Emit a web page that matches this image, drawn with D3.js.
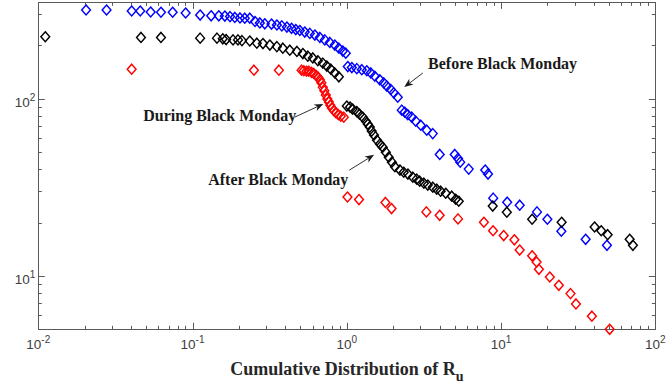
<!DOCTYPE html>
<html>
<head>
<meta charset="utf-8">
<script src="https://cdn.jsdelivr.net/npm/d3@7"></script>
<style>
  html, body { margin: 0; padding: 0; background: #fff; }
  svg { display: block; }
</style>
</head>
<body>
<svg id="chart" width="666" height="389"></svg>
<script>
// Cumulative distribution of R_u, three periods around Black Monday: [R_u, count]
const beforePts = [
  [0.0204,317],[0.0277,317],[0.0403,313],[0.0458,313],[0.0535,309],[0.0624,308],[0.0743,308],[0.0902,305],
  [0.112,297],[0.132,294],[0.148,294],[0.162,293],[0.175,291],[0.188,288],[0.203,286],[0.218,285],[0.235,285],
  [0.254,273],[0.273,268],[0.294,265],[0.325,264],[0.352,261],[0.379,258],[0.409,254],[0.438,250],[0.467,246],
  [0.496,243],[0.534,238],[0.576,234],[0.621,229],[0.669,222],[0.720,215],[0.776,208],[0.836,201],[0.888,193],
  [0.942,186],[0.985,181],
  [1.015,152],[1.078,150],[1.161,148],[1.251,146],[1.348,144],[1.431,140],[1.519,134],[1.636,128],[1.737,123],
  [1.816,118],[1.928,113],[2.016,108],[2.140,102],
  [2.272,86.3],[2.376,84.1],[2.485,81.4],[2.637,78.8],[2.799,74.8],[3.016,71.0],[3.299,66.5],[3.608,63.6],
  [4.004,48.5],[5.009,48.5],[5.262,46.1],[5.437,43.9],[6.172,40.1],[7.893,39.6],[8.233,37.6],
  [8.895,27.5],[10.96,26.1],[13.21,25.1],[17.10,23.0],[19.97,20.9],[24.60,17.9],[35.35,16.1],[48.58,14.9]
];

const duringPts = [
  [0.0403,147],[0.250,145],[0.363,145],[0.509,145],[0.526,144],[0.548,143],[0.567,143],[0.591,141],[0.611,139],
  [0.636,135],[0.653,132],[0.669,128],[0.684,123],[0.699,116],[0.715,111],[0.731,105],[0.748,99.6],[0.765,95.8],
  [0.782,92.1],[0.800,88.6],[0.824,85.8],[0.849,83.6],[0.881,81.4],[0.914,79.8],[0.956,78.8],
  [1.01,27.9],[1.20,27.0],[1.78,26.0],[1.95,24.0],[3.28,23.0],[4.00,22.0],[5.26,21.0],[7.74,20.1],[8.87,18.0],
  [10.4,16.9],[12.2,16.0],[13.2,14.0],[15.9,13.0],[17.0,12.0],[17.6,10.9],[20.7,9.87],[23.7,8.86],[28.2,7.95],
  [30.6,6.95],[38.8,5.93],[50.6,5.0]
];

const afterPts = [
  [0.0111,224],[0.0463,222],[0.0624,222],[0.112,220],[0.144,220],[0.157,218],[0.165,216],[0.183,215],[0.197,215],
  [0.209,213],[0.235,212],[0.261,206],[0.286,205],[0.317,201],[0.352,197],[0.385,193],[0.427,188],[0.475,185],
  [0.519,180],[0.559,174],[0.602,170],[0.649,164],[0.699,159],[0.742,153],[0.788,147],[0.836,140],[0.888,133],
  [1.00,91.0],[1.05,89.8],[1.09,87.5],[1.16,84.7],[1.21,81.9],[1.27,78.8],[1.33,74.8],[1.37,71.9],[1.41,69.2],
  [1.45,65.7],[1.50,62.4],[1.57,58.4],[1.64,55.5],[1.71,53.3],[1.79,50.0],[1.87,46.8],[1.96,43.9],[2.05,41.4],
  [2.21,39.6],[2.34,38.5],[2.49,37.6],[2.68,36.1],[2.84,35.2],[2.97,34.3],[3.16,33.4],[3.35,32.6],[3.61,31.7],
  [3.83,30.9],[4.06,30.1],[4.38,29.3],[4.79,28.2],[5.08,27.1],[5.32,26.4],
  [8.83,24.8],[10.9,22.9],[15.9,20.9],[24.7,20.1],[40.4,18.9],[44.6,18.0],[49.1,17.1],[68.2,16.1],[71.6,14.9]
];

const xDomain = [0.01, 100];
const yDomain = [5, 350];
const xTickExponents = ["-2", "-1", "0", "1", "2"];
const yTickExponents = ["1", "2"];

// Labels with arrows, anchored in data units: text start, arrow tail, arrow tip
const notes = [
  { text: "Before Black Monday", at: [3.363, 147.2], from: [3.108, 139.7], to: [2.358, 116.4] },
  { text: "During Black Monday", at: [0.0479, 75.3], from: [0.4603, 78.8], to: [0.7043, 93.6] },
  { text: "After Black Monday",  at: [0.1263, 32.54], from: [1.038, 39.56], to: [1.503, 48.28] }
];

const series = [
  { pts: beforePts, color: "#0000ff" },
  { pts: duringPts, color: "#ff0000" },
  { pts: afterPts,  color: "#000000" }
];

// ---- layout ----
const W = 666, H = 389;
const m = { top: 2.4, right: 10.7, bottom: 59.7, left: 38.3 };
const x = d3.scaleLog().domain(xDomain).range([m.left, W - m.right]);
const y = d3.scaleLog().domain(yDomain).range([H - m.bottom, m.top]);
const x0 = m.left, x1 = W - m.right, y0 = H - m.bottom, y1 = m.top;

const axisColor = "#5a5a5a";
const labelColor = "#404040";
const tickFont = "'Liberation Sans', Arial, Helvetica, sans-serif";
const serif = "'Liberation Serif', 'Times New Roman', Times, serif";

const svg = d3.select("#chart");

const isMajor = v => Math.abs(Math.log10(v) - Math.round(Math.log10(v))) < 1e-9;
const majLen = 6.5, minLen = 3.5;

// ticks on all four sides, pointing inward
const gT = svg.append("g").attr("stroke", axisColor).attr("stroke-width", 1).attr("fill", "none");
x.ticks().filter(v => v > xDomain[0] && v < xDomain[1]).forEach(v => {
  const px = Math.round(x(v)) + 0.5, L = isMajor(v) ? majLen : minLen;
  gT.append("line").attr("x1", px).attr("x2", px).attr("y1", y0).attr("y2", y0 - L);
  gT.append("line").attr("x1", px).attr("x2", px).attr("y1", y1).attr("y2", y1 + L);
});
y.ticks().filter(v => v > yDomain[0] && v < yDomain[1]).forEach(v => {
  const py = Math.round(y(v)) + 0.5, L = isMajor(v) ? majLen : minLen;
  gT.append("line").attr("y1", py).attr("y2", py).attr("x1", x0).attr("x2", x0 + L);
  gT.append("line").attr("y1", py).attr("y2", py).attr("x1", x1).attr("x2", x1 - L);
});

// axes box
svg.append("rect")
  .attr("x", Math.round(x0) + 0.5).attr("y", Math.round(y1) + 0.5)
  .attr("width", Math.round(x1) - Math.round(x0)).attr("height", Math.round(y0) - Math.round(y1))
  .attr("fill", "none").attr("stroke", axisColor).attr("stroke-width", 1);

// power-of-ten tick labels
function powerLabel(sel, exp) {
  sel.append("tspan").text("10");
  sel.append("tspan").attr("dy", -6).attr("font-size", 10).text(exp);
}
xTickExponents.forEach(e => {
  svg.append("text")
    .attr("x", x(Math.pow(10, +e))).attr("y", y0 + 20)
    .attr("text-anchor", "middle").attr("font-family", tickFont).attr("font-size", 13.5)
    .attr("fill", labelColor)
    .call(powerLabel, e);
});
yTickExponents.forEach(e => {
  svg.append("text")
    .attr("x", x0 - 3).attr("y", y(Math.pow(10, +e)) + 8.5)
    .attr("text-anchor", "end").attr("font-family", tickFont).attr("font-size", 13.5)
    .attr("fill", labelColor)
    .call(powerLabel, e);
});

// x-axis title with subscript
const title = svg.append("text")
  .attr("x", (x0 + x1) / 2).attr("y", 375)
  .attr("text-anchor", "middle").attr("font-family", serif).attr("font-weight", "bold")
  .attr("font-size", 18).attr("fill", "#262626");
title.append("tspan").text("Cumulative Distribution of R");
title.append("tspan").attr("dy", 6).attr("font-size", 14).text("u");

// diamond markers
const dw = 4.4, dh = 5.0;
const diamond = `M0,${-dh}L${dw},0L0,${dh}L${-dw},0Z`;
series.forEach(s => {
  svg.append("g")
    .selectAll("path")
    .data(s.pts)
    .join("path")
    .attr("d", diamond)
    .attr("transform", d => `translate(${x(d[0])},${y(d[1])})`)
    .attr("fill", "none")
    .attr("stroke", s.color)
    .attr("stroke-width", 1.45);
});

// annotations
const noteColor = "#1a1a1a";
notes.forEach(n => {
  svg.append("text")
    .attr("x", x(n.at[0])).attr("y", y(n.at[1]))
    .attr("font-family", serif).attr("font-weight", "bold").attr("font-size", 16)
    .attr("fill", noteColor).text(n.text);
  const ax = x(n.from[0]), ay = y(n.from[1]), bx = x(n.to[0]), by = y(n.to[1]);
  const ang = Math.atan2(by - ay, bx - ax);
  const len = 9, half = 3.6, notch = 6.5;
  const ux = Math.cos(ang), uy = Math.sin(ang), nx = -uy, ny = ux;
  svg.append("line")
    .attr("x1", ax).attr("y1", ay)
    .attr("x2", bx - ux * notch).attr("y2", by - uy * notch)
    .attr("stroke", noteColor).attr("stroke-width", 0.9);
  const p = [
    [bx, by],
    [bx - ux * len + nx * half, by - uy * len + ny * half],
    [bx - ux * notch, by - uy * notch],
    [bx - ux * len - nx * half, by - uy * len - ny * half]
  ];
  svg.append("path").attr("d", "M" + p.map(q => q.join(",")).join("L") + "Z")
    .attr("fill", noteColor).attr("stroke", "none");
});
</script>
</body>
</html>
